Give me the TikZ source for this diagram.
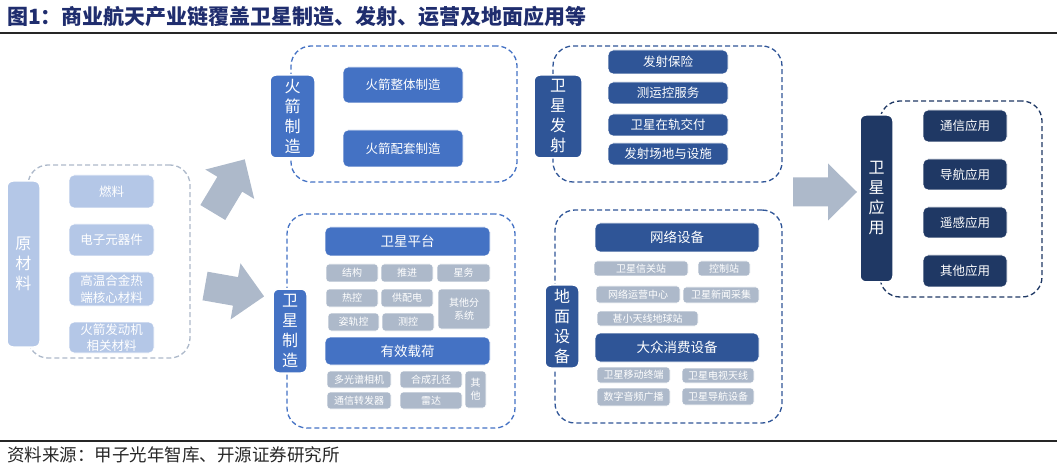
\documentclass[tikz,border=0pt]{standalone}
\usepackage{fontspec}
\setmainfont{Noto Sans CJK SC}
\definecolor{lb}{HTML}{B4C7E7}
\definecolor{mb}{HTML}{4472C4}
\definecolor{db}{HTML}{2F5597}
\definecolor{nb}{HTML}{1F3864}
\definecolor{gb}{HTML}{ADB9CA}
\definecolor{tt}{HTML}{1F2D6E}
\newcommand\bx[7]{\node[#6, minimum width={(#4)-(#2)}, minimum height={(#5)-(#3)}] (#1) at ({((#2)+(#4))/2},{((#3)+(#5))/2}) {#7};}
\newcommand\barrow[4]{%
  \begin{scope}[shift={(#1,#2)}, rotate=#3]
    \fill[gb] (0,-14.5) -- ({#4-29},-14.5) -- ({#4-29},-28.5) -- (#4,0) -- ({#4-29},28.5) -- ({#4-29},14.5) -- (0,14.5) -- cycle;
  \end{scope}}
\tikzset{
  base/.style={inner sep=0pt, rounded corners=5pt, text=white, align=center, draw=white, line width=0.8pt},
  lab/.style={base, rounded corners=6pt, font=\fontsize{16}{20}\selectfont, line width=1.5pt},
  it12/.style={base, font=\fontsize{12.5}{16.5}\selectfont},
  hd/.style={base, font=\fontsize{13.5}{16}\selectfont},
  small/.style={base, fill=gb, rounded corners=3pt, font=\fontsize{10}{13}\selectfont},
  cont/.style={inner sep=0pt, line width=1.3pt, dash pattern=on 5pt off 3pt, rounded corners=20pt}
}
\begin{document}
\begin{tikzpicture}[x=1pt,y=-1pt]
\useasboundingbox (0,0) rectangle (1057,470);
% title and rules
\node[anchor=west, inner sep=0pt, text=tt, font=\fontsize{21}{21}\selectfont\bfseries] (title) at (7,16.5) {图1：商业航天产业链覆盖卫星制造、发射、运营及地面应用等};
\coordinate (t1) at (0,33); \coordinate (t2) at (1057,33);
\draw[line width=1.2pt, black!85] (t1) -- (t2);
\coordinate (f1) at (0,441); \coordinate (f2) at (1057,441);
\draw[line width=1.2pt, black!85] (f1) -- (f2);
\node[anchor=west, inner sep=0pt, text=black!85, font=\fontsize{17.5}{18}\selectfont] (src) at (7,455) {资料来源：甲子光年智库、开源证券研究所};
% containers
\bx{rawC}{28}{165}{190}{358}{cont,draw=gb}{}
\bx{rkC}{291}{46}{517}{182}{cont,draw=mb}{}
\bx{smC}{287}{214}{515}{428}{cont,draw=mb}{}
\bx{lnC}{553}{46}{782}{182}{cont,draw=db}{}
\bx{grC}{555}{210}{782}{423}{cont,draw=db}{}
\bx{apC}{880}{101}{1042}{297}{cont,draw=nb}{}
% raw materials
\bx{raw}{7}{181}{40}{347}{lab,fill=lb}{原\\材\\料}
\bx{r1}{69}{175}{154}{208}{it12,fill=lb}{燃料}
\bx{r2}{69}{224}{154}{256}{it12,fill=lb}{电子元器件}
\bx{r3}{69}{272}{154}{306}{it12,fill=lb}{高温合金热\\端核心材料}
\bx{r4}{69}{322}{154}{353}{it12,fill=lb}{火箭发动机\\相关材料}
% arrows
\barrow{212.8}{212.5}{59}{62}
\barrow{205}{286}{-10}{60}
\barrow{793}{192}{0}{64}
% rocket manufacturing
\bx{rk}{270}{75}{315}{158}{lab,fill=mb}{火\\箭\\制\\造}
\bx{rk1}{343}{67}{463}{103}{it12,fill=mb}{火箭整体制造}
\bx{rk2}{343}{130}{463}{167}{it12,fill=mb}{火箭配套制造}
% satellite manufacturing
\bx{sm}{273}{289}{307}{373}{lab,fill=mb}{卫\\星\\制\\造}
\bx{sp}{325}{227}{490}{256}{hd,fill=mb}{卫星平台}
\bx{s1}{326}{264}{378}{282}{small}{结构}
\bx{s2}{381}{264}{433}{282}{small}{推进}
\bx{s3}{437}{264}{490}{282}{small}{星务}
\bx{s4}{326}{289}{378}{307}{small}{热控}
\bx{s5}{381}{289}{433}{307}{small}{供配电}
\bx{s6}{438}{289}{490}{329}{small}{其他分\\系统}
\bx{s7}{328}{313}{379}{331}{small}{姿轨控}
\bx{s8}{382}{313}{434}{331}{small}{测控}
\bx{pl}{325}{337}{490}{365}{hd,fill=mb}{有效载荷}
\bx{p1}{327}{371}{391}{388}{small}{多光谱相机}
\bx{p2}{400}{371}{462}{388}{small}{合成孔径}
\bx{p3}{465}{371}{486}{408}{small}{其\\他}
\bx{p4}{327}{392}{391}{409}{small}{通信转发器}
\bx{p5}{400}{392}{462}{409}{small}{雷达}
% satellite launch
\bx{ln}{534}{75}{582}{158}{lab,fill=db}{卫\\星\\发\\射}
\bx{l1}{608}{50}{728}{74}{it12,fill=db}{发射保险}
\bx{l2}{608}{82}{728}{104}{it12,fill=db}{测运控服务}
\bx{l3}{608}{114}{728}{136}{it12,fill=db}{卫星在轨交付}
\bx{l4}{608}{143}{728}{165}{it12,fill=db}{发射场地与设施}
% ground equipment
\bx{gr}{545}{285}{579}{368}{lab,fill=db}{地\\面\\设\\备}
\bx{g0}{595}{223}{759}{252}{hd,fill=db}{网络设备}
\bx{g1}{594}{261}{688}{276}{small}{卫星信关站}
\bx{g2}{698}{261}{750}{276}{small}{控制站}
\bx{g3}{596}{286}{680}{303}{small}{网络运营中心}
\bx{g4}{683}{287}{759}{303}{small}{卫星新闻采集}
\bx{g5}{597}{311}{698}{326}{small}{甚小天线地球站}
\bx{c0}{595}{333}{759}{362}{hd,fill=db}{大众消费设备}
\bx{c1}{597}{367}{670}{383}{small}{卫星移动终端}
\bx{c2}{682}{368}{754}{383}{small}{卫星电视天线}
\bx{c3}{597}{388}{670}{406}{small}{数字音频广播}
\bx{c4}{682}{388}{754}{405}{small}{卫星导航设备}
% applications
\bx{ap}{860}{115}{893}{282}{lab,fill=nb}{卫\\星\\应\\用}
\bx{a1}{923}{110}{1007}{142}{it12,fill=nb}{通信应用}
\bx{a2}{923}{159}{1007}{190}{it12,fill=nb}{导航应用}
\bx{a3}{923}{207}{1007}{238}{it12,fill=nb}{遥感应用}
\bx{a4}{923}{255}{1007}{287}{it12,fill=nb}{其他应用}
\end{tikzpicture}
\end{document}
